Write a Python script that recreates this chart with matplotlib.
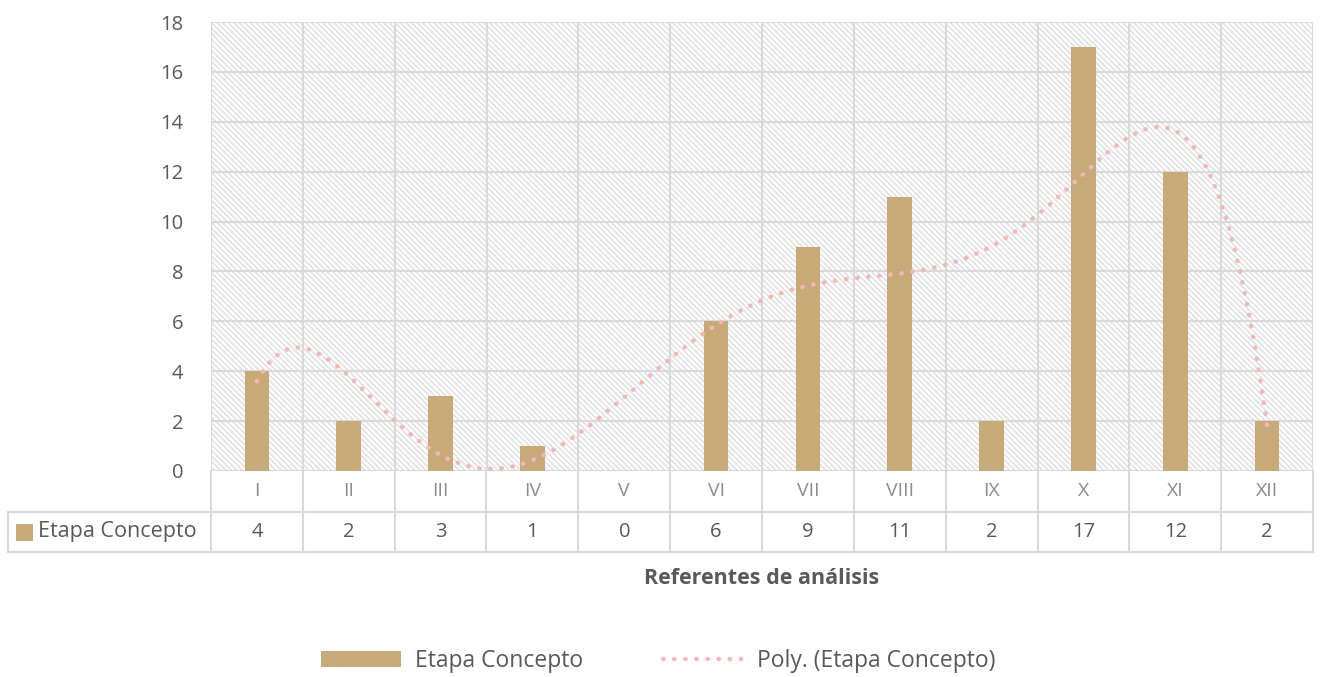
import numpy as np
import matplotlib.pyplot as plt
from matplotlib.lines import Line2D
from matplotlib.patches import Patch

# Datos: etapa concepto por referente
categorias = ['I', 'II', 'III', 'IV', 'V', 'VI', 'VII', 'VIII', 'IX', 'X', 'XI', 'XII']
etapa_concepto = [4, 2, 3, 1, 0, 6, 9, 11, 2, 17, 12, 2]
serie_nombre = 'Etapa Concepto'

BAR_COLOR = '#C8AA78'
TREND_COLOR = '#F2B8B8'
TEXT_COLOR = '#595959'
GRID_COLOR = '#D9D9D9'
DOTS = (0, (0.1, 2.4))

plt.rcParams['font.family'] = ['Open Sans', 'DejaVu Sans']
plt.rcParams['hatch.color'] = '#E3E3E3'
plt.rcParams['hatch.linewidth'] = 1.3

fig = plt.figure(figsize=(13.2, 6.77), dpi=100)
W, H = 1320, 677
left, right, top, bottom = 211, 1313, 22, 471
ax = fig.add_axes([left / W, 1 - bottom / H, (right - left) / W, (bottom - top) / H])

x = np.arange(len(categorias))
ax.set_xlim(-0.5, len(categorias) - 0.5)
ax.set_ylim(0, 18)

# fondo rayado
ax.add_patch(plt.Rectangle((0, 0), 1, 1, transform=ax.transAxes, facecolor='white',
                           edgecolor='#E3E3E3', hatch='\\' * 6, linewidth=0, zorder=0))

for yv in range(0, 19, 2):
    ax.axhline(yv, color=GRID_COLOR, lw=1.5, zorder=1)
for xv in np.arange(-0.5, len(categorias), 1.0):
    ax.axvline(xv, color=GRID_COLOR, lw=1.5, zorder=1)

ax.bar(x, etapa_concepto, width=0.27, color=BAR_COLOR, zorder=3)

# línea de tendencia polinómica (orden 6)
coef = np.polyfit(x, etapa_concepto, 6)
xs = np.linspace(0, len(categorias) - 1, 400)
ax.plot(xs, np.polyval(coef, xs), color=TREND_COLOR, lw=3.2, linestyle=DOTS,
        dash_capstyle='round', zorder=4)

for s in ax.spines.values():
    s.set_visible(False)
ax.set_xticks([])
ax.set_yticks(range(0, 19, 2))
ax.tick_params(axis='y', length=0, pad=20, labelsize=14.5, labelcolor=TEXT_COLOR)

# tabla de datos bajo el eje
def fx(px):
    return px / W

def fy(py):
    return 1 - py / H

row1, row2, row3 = 471, 512, 552
cell_w = (right - left) / len(categorias)
lines = []
lines.append(Line2D([fx(8), fx(right)], [fy(row2)] * 2))
lines.append(Line2D([fx(8), fx(right)], [fy(row3)] * 2))
lines.append(Line2D([fx(8), fx(8)], [fy(row2), fy(row3)]))
for i in range(len(categorias) + 1):
    xp = left + i * cell_w
    lines.append(Line2D([fx(xp), fx(xp)], [fy(row1), fy(row3)]))
for ln in lines:
    ln.set_color(GRID_COLOR)
    ln.set_linewidth(1.5)
    ln.set_transform(fig.transFigure)
    fig.add_artist(ln)

for i, (cat, val) in enumerate(zip(categorias, etapa_concepto)):
    xc = fx(left + (i + 0.5) * cell_w)
    fig.text(xc, fy((row1 + row2) / 2), cat, ha='center', va='center',
             fontsize=14, color='#8C8C8C')
    fig.text(xc, fy((row2 + row3) / 2), str(val), ha='center', va='center',
             fontsize=14.5, color=TEXT_COLOR)

fig.add_artist(plt.Rectangle((fx(16), fy(541)), 17 / W, 17 / H, transform=fig.transFigure,
                             facecolor=BAR_COLOR, edgecolor='none'))
fig.text(fx(38), fy(531), serie_nombre, ha='left', va='center', fontsize=15.5, color=TEXT_COLOR)

fig.text(fx((left + right) / 2), fy(578), 'Referentes de análisis', ha='center', va='center',
         fontsize=15.5, fontweight='bold', color=TEXT_COLOR)

handles = [Patch(facecolor=BAR_COLOR, edgecolor='none'),
           Line2D([0], [0], color=TREND_COLOR, lw=3.2, linestyle=DOTS,
                  dash_capstyle='round')]
fig.legend(handles, [serie_nombre, 'Poly. (' + serie_nombre + ')'], loc='center',
           bbox_to_anchor=(fx(658), fy(661)), ncol=2, frameon=False, fontsize=16.5,
           labelcolor=TEXT_COLOR, handlelength=3.5, handleheight=0.7, columnspacing=3.5,
           handletextpad=0.6)

fig.savefig('out.png', dpi=100)
